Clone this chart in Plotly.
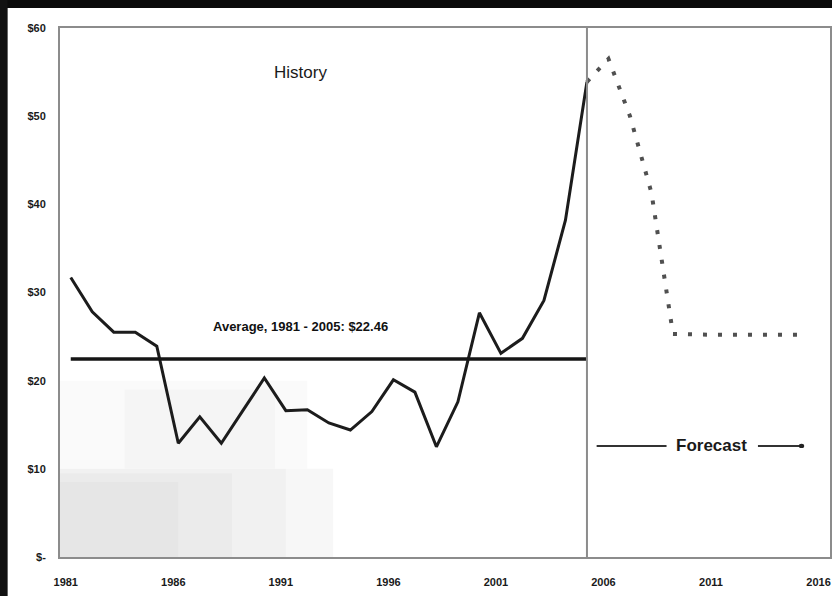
import plotly.graph_objects as go

# Annual oil price, history and forecast (US$ per barrel)
hist_years = list(range(1981, 2006))
hist_price = [31.7, 27.8, 25.5, 25.5, 23.9, 12.9, 15.9, 12.9, 16.6, 20.3,
              16.6, 16.7, 15.2, 14.4, 16.5, 20.1, 18.7, 12.5, 17.6, 27.7,
              23.1, 24.8, 29.1, 38.2, 53.9]

fc_years = list(range(2005, 2016))
fc_price = [53.9, 56.5, 50.0, 41.3, 25.3, 25.2, 25.2, 25.2, 25.2, 25.2, 25.2]

avg_price = 22.46
avg_span = [1981, 2005]

x_ticks = [1981, 1986, 1991, 1996, 2001, 2006, 2011, 2016]
y_ticks = [0, 10, 20, 30, 40, 50, 60]
y_labels = ["$-", "$10", "$20", "$30", "$40", "$50", "$60"]

FONT = "Liberation Sans, Arial, sans-serif"
FRAME = "#8c8c8c"

fig = go.Figure()

fig.add_trace(go.Scatter(
    x=hist_years, y=hist_price, mode="lines",
    line=dict(color="#1c1c1c", width=3), showlegend=False, hoverinfo="skip"))

fig.add_trace(go.Scatter(
    x=avg_span, y=[avg_price, avg_price], mode="lines",
    line=dict(color="#151515", width=3.5), showlegend=False, hoverinfo="skip"))

fig.add_trace(go.Scatter(
    x=fc_years, y=fc_price, mode="lines",
    line=dict(color="#505050", width=4, dash="4px,11px"),
    showlegend=False, hoverinfo="skip"))

# faint grey shading in the lower-left of the history panel, built up in layers
haze = [
    (1980.5, 1993.2, 0, 10, 0.03),
    (1980.5, 1991.0, 0, 10, 0.025),
    (1980.5, 1988.5, 0, 9.5, 0.025),
    (1980.5, 1986.0, 0, 8.5, 0.02),
    (1980.5, 1992.0, 10, 20, 0.02),
    (1983.5, 1990.5, 10, 19, 0.02),
]
shapes = [
    dict(type="rect", xref="x", yref="y", x0=a, x1=b, y0=c, y1=d,
         fillcolor=f"rgba(0,0,0,{o})", line_width=0, layer="below")
    for a, b, c, d, o in haze
]

shapes += [
    # history / forecast divider
    dict(type="line", xref="x", yref="y", x0=2005, x1=2005, y0=0, y1=60,
         line=dict(color=FRAME, width=2)),
    # forecast key
    dict(type="line", xref="x", yref="y", x0=2005.45, x1=2008.7, y0=12.6, y1=12.6,
         line=dict(color="#333333", width=2)),
    dict(type="line", xref="x", yref="y", x0=2012.95, x1=2014.95, y0=12.6, y1=12.6,
         line=dict(color="#333333", width=2)),
    dict(type="circle", xref="x", yref="y", x0=2014.85, x1=2015.1, y0=12.35, y1=12.85,
         fillcolor="#222222", line_width=0),
    # dark scan border along the top and left edges
    dict(type="rect", xref="paper", yref="paper", x0=-0.08, x1=1.01, y0=1.038, y1=1.06,
         fillcolor="#0a0a0a", line_width=0),
    dict(type="rect", xref="paper", yref="paper", x0=-0.08, x1=-0.068, y0=-0.08, y1=1.06,
         fillcolor="#111111", line_width=0),
]

annotations = [
    dict(x=1991.7, y=55.0, xref="x", yref="y", text="History", showarrow=False,
         font=dict(family=FONT, size=17, color="#1a1a1a")),
    dict(x=1991.7, y=26.1, xref="x", yref="y",
         text=f"<b>Average, {avg_span[0]} - {avg_span[1]}: ${avg_price:.2f}</b>",
         showarrow=False, font=dict(family=FONT, size=13, color="#111111")),
    dict(x=2010.8, y=12.6, xref="x", yref="y", text="<b>Forecast</b>", showarrow=False,
         font=dict(family=FONT, size=17, color="#1a1a1a")),
]

fig.update_layout(
    width=832, height=596,
    margin=dict(l=60, r=2, t=28, b=39),
    paper_bgcolor="white", plot_bgcolor="white",
    shapes=shapes, annotations=annotations,
    xaxis=dict(range=[1980.5, 2016.3], tickvals=x_ticks,
               ticktext=[f"<b>{t}</b>" for t in x_ticks],
               tickfont=dict(family=FONT, size=11, color="#1a1a1a"),
               showgrid=False, zeroline=False, ticks="",
               showline=True, linecolor=FRAME, linewidth=2, mirror=True,
               ticklabelstandoff=14, ticklabelshift=-5,
               ticklabeloverflow="allow", automargin=False),
    yaxis=dict(range=[0, 60], tickvals=y_ticks,
               ticktext=[f"<b>{t}</b>" for t in y_labels],
               tickfont=dict(family=FONT, size=11, color="#1a1a1a"),
               showgrid=False, zeroline=False, ticks="",
               showline=True, linecolor=FRAME, linewidth=2, mirror=True,
               ticklabelstandoff=10, automargin=False),
)

fig.write_html("out.html")
